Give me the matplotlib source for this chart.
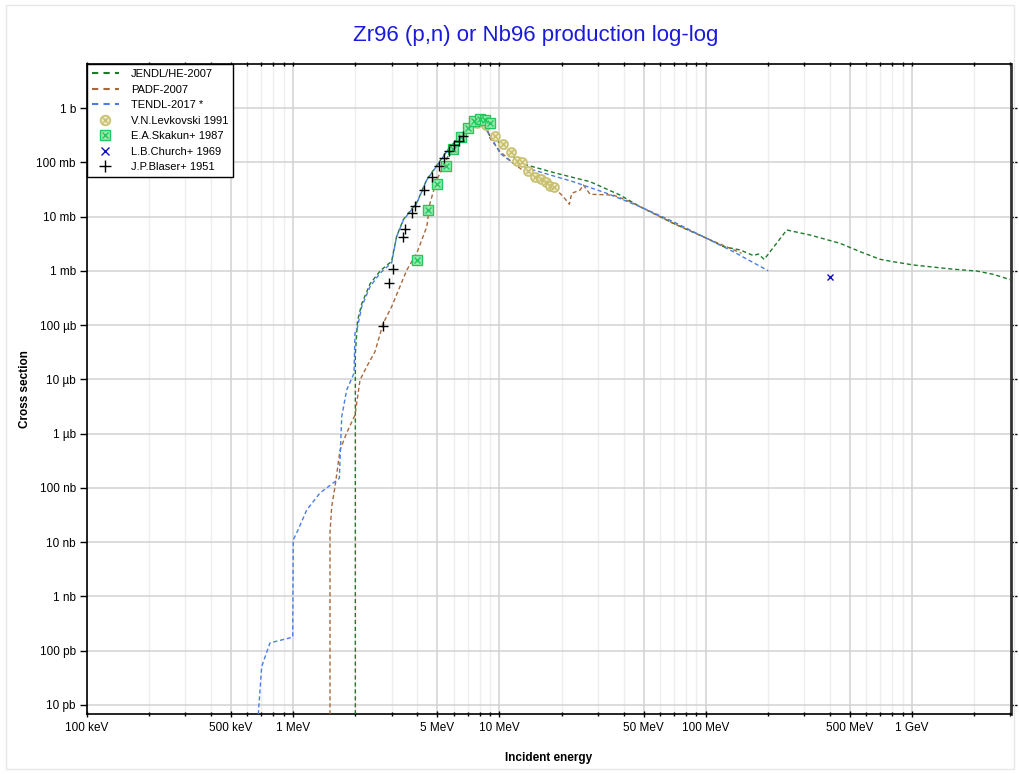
import numpy as np
import matplotlib
matplotlib.use("Agg")
import matplotlib.pyplot as plt
from matplotlib.ticker import FixedLocator, FuncFormatter, NullFormatter
from matplotlib.legend_handler import HandlerTuple
from matplotlib.patches import Rectangle
from matplotlib.lines import Line2D

plt.rcParams['font.family'] = ['Liberation Sans', 'DejaVu Sans']

# energies in MeV, cross sections in mb
jendl_e = [2.0, 2.0, 2.05, 2.15, 2.36, 2.64, 3.0, 3.17, 3.42, 3.97, 4.44, 4.96, 5.55, 6.2,
           6.93, 7.89, 8.51, 9.0, 10.06, 11.67, 13.55, 18.9, 27.5, 38.4, 48.0, 69.6, 101,
           122, 147, 170, 180, 192, 247, 320, 448, 560, 700, 812, 1015, 1585, 2060, 2480, 3020]
jendl_s = [5e-9, 0.03, 0.12, 0.25, 0.58, 1.0, 1.5, 4.3, 8.8, 18, 48, 87, 160, 262,
           400, 530, 450, 300, 225, 127, 89, 62.6, 43.8, 24.9, 15.2, 7.5, 3.97,
           2.78, 2.42, 1.91, 2.04, 1.62, 5.65, 4.57, 3.21, 2.25, 1.63, 1.47, 1.28, 1.07, 0.99, 0.86, 0.68]

padf_e = [1.507, 1.507, 1.536, 1.594, 1.686, 1.816, 1.993, 2.107, 2.27, 2.49, 2.73, 3.0,
          3.55, 3.97, 4.44, 4.60, 4.96, 5.34, 5.75, 6.44, 7.19, 8.05, 8.67, 9.0, 10.06,
          11.67, 13.55, 15.7, 18.9, 20.4, 21.8, 22.4, 24.6, 25.5, 27.5, 35.6, 42.9, 51.7,
          69.6, 101, 126, 149]
padf_s = [5e-9, 1.48e-5, 4.5e-5, 1.05e-4, 4.99e-4, 1.03e-3, 2.2e-3, 9.7e-3, 0.0171, 0.0323,
          0.108, 0.218, 1.03, 2.1, 6.5, 17.5, 47.1, 82.8, 157, 296, 422, 522, 452, 276, 158,
          95.7, 62.6, 47.1, 30.8, 23.2, 16.8, 26.8, 30.8, 38.1, 25.7, 24.9, 18.8, 13.2,
          7.5, 3.97, 2.78, 2.1]

tendl_e = [0.673, 0.703, 0.771, 0.994, 1.0, 1.055, 1.162, 1.348, 1.673, 1.718, 1.816, 1.970,
           1.993, 2.044, 2.148, 2.356, 2.635, 3.0, 3.17, 3.42, 3.97, 4.44, 4.96, 5.55, 6.2,
           6.93, 7.89, 8.51, 9.0, 10.06, 11.67, 14.58, 22.8, 33.1, 48.0, 69.6, 101, 136, 201]
tendl_s = [5e-9, 5.07e-8, 1.39e-7, 1.77e-7, 1.1e-5, 1.68e-5, 3.91e-5, 8.05e-5, 1.5e-4, 2.05e-3,
           6.37e-3, 0.0129, 0.0714, 0.087, 0.218, 0.51, 0.90, 1.41, 4.25, 8.63, 17.5, 47.1,
           85.3, 157, 257, 393, 522, 422, 318, 146, 95.7, 72, 43.8, 26.8, 15.2, 8.03, 3.97,
           2.25, 1.0]

levk_e = [7.78, 8.60, 9.51, 10.36, 11.33, 12.12, 12.81, 13.79, 14.86, 15.84, 16.75, 17.57, 18.37]
levk_s = [528, 485, 308, 214, 153, 106, 99.8, 69.0, 54.2, 48.5, 43.3, 36.5, 34.6]

skak_e = [4.00, 4.49, 4.99, 5.49, 5.98, 6.51, 7.01, 7.52, 8.01, 8.51, 9.04]
skak_s = [1.58, 13.4, 39.7, 85.3, 175, 297, 425, 569, 621, 591, 540]

church_e = [400]
church_s = [0.76]

blaser_e = [2.73, 2.91, 3.06, 3.40, 3.49, 3.75, 3.89, 4.32, 4.69, 5.09, 5.40, 5.71, 6.02, 6.36, 6.68]
blaser_s = [0.097, 0.60, 1.08, 4.14, 5.82, 11.8, 15.8, 30.8, 52.8, 85.3, 121, 163, 208, 247, 305]

c_jendl = '#1f7a2a'
c_padf = '#a8683c'
c_tendl = '#4a7ee6'
c_levk = '#c8c070'
c_skak = '#22c85a'

fig = plt.figure(figsize=(10.2, 7.74), dpi=100)
fig.patches.append(Rectangle((0.006, 0.006), 0.988, 0.988, transform=fig.transFigure,
                             fill=False, edgecolor='#e8e8e8', lw=1))
ax = fig.add_axes([87 / 1020, 60 / 774, 924 / 1020, 650 / 774])
ax.set_xscale('log')
ax.set_yscale('log')
ax.set_xlim(0.1, 3020)
ax.set_ylim(6.8e-9, 6470)

dash = (0, (3, 2))
ax.plot(jendl_e, jendl_s, color=c_jendl, lw=1, linestyle=dash, zorder=3)
ax.plot(padf_e, padf_s, color=c_padf, lw=1, linestyle=dash, zorder=3)
ax.plot(tendl_e, tendl_s, color=c_tendl, lw=1, linestyle=dash, zorder=3)

ax.plot(levk_e, levk_s, 'o', ms=6.5, mfc='#ece9c4', mec=c_levk, mew=1.2, zorder=4)
ax.plot(levk_e, levk_s, 'x', ms=4, mec=c_levk, mew=1.0, zorder=4)
ax.plot(skak_e, skak_s, 's', ms=6.5, mfc='#9be8b6', mec=c_skak, mew=1.0, zorder=5)
ax.plot(skak_e, skak_s, 'x', ms=5, mec=c_skak, mew=1.0, zorder=5)
ax.plot(church_e, church_s, 'x', ms=5, mec='#1010c0', mew=1.0, zorder=5)
ax.plot(blaser_e, blaser_s, '+', ms=7, mec='black', mew=1.0, zorder=6)

# ticks
dec = [0.1, 1, 10, 100, 1000]
xmaj = [d * m for d in dec for m in (1, 5)]
xmin = [d * m for d in dec for m in (2, 3, 4, 6, 7, 8, 9) if d * m <= 3020]
ax.xaxis.set_major_locator(FixedLocator(xmaj))
ax.xaxis.set_minor_locator(FixedLocator(xmin))


def fmt_e(v, pos):
    if v < 1:
        return f"{v * 1000:g} keV"
    if v < 1000:
        return f"{v:g} MeV"
    return f"{v / 1000:g} GeV"


ax.xaxis.set_major_formatter(FuncFormatter(fmt_e))
ax.xaxis.set_minor_formatter(NullFormatter())

ylab = ['10 pb', '100 pb', '1 nb', '10 nb', '100 nb', '1 µb', '10 µb', '100 µb',
        '1 mb', '10 mb', '100 mb', '1 b']
yvals = [10.0 ** k for k in range(-8, 4)]
ax.yaxis.set_major_locator(FixedLocator(yvals))
ax.yaxis.set_minor_locator(FixedLocator([]))
ax.set_yticklabels(ylab)

ax.tick_params(axis='both', which='major', direction='out', length=5, width=1,
               labelsize=8.5, colors='black', pad=3)
ax.tick_params(axis='x', which='minor', direction='out', length=3, width=1)
ax.tick_params(top=True, right=True, which='both')
ax.tick_params(axis='x', which='both', top=True, direction='inout')
for t in ax.xaxis.get_major_ticks() + ax.xaxis.get_minor_ticks():
    t.tick2line.set_markersize(3)
for t in ax.yaxis.get_major_ticks():
    t.tick2line.set_markersize(4)

ax.grid(True, which='major', color='#d2d2d2', lw=1.1, zorder=0)
ax.grid(True, which='minor', axis='x', color='#eeeeee', lw=1.0, zorder=0)
ax.set_axisbelow(True)
for s in ('left', 'bottom', 'top'):
    ax.spines[s].set_linewidth(1.2)
    ax.spines[s].set_color('black')
ax.spines['right'].set_linewidth(2)
ax.spines['right'].set_color('#333333')

ax.set_xlabel('Incident energy', fontsize=8.5, fontweight='bold', labelpad=13)
ax.set_ylabel('Cross section', fontsize=8.5, fontweight='bold', labelpad=4)
fig.text(536 / 1020, 1 - 35 / 774, 'Zr96 (p,n) or Nb96 production log-log',
         color='#1a1adc', fontsize=16, ha='center', va='center')

handles = [
    Line2D([], [], color=c_jendl, lw=1.5, linestyle=(0, (3, 2.5))),
    Line2D([], [], color=c_padf, lw=1.5, linestyle=(0, (3, 2.5))),
    Line2D([], [], color=c_tendl, lw=1.5, linestyle=(0, (3, 2.5))),
    (Line2D([], [], ls='none', marker='o', ms=7, mfc='#ece9c4', mec=c_levk, mew=1.2),
     Line2D([], [], ls='none', marker='x', ms=4.5, mec=c_levk, mew=1.0)),
    (Line2D([], [], ls='none', marker='s', ms=7, mfc='#9be8b6', mec=c_skak, mew=1.0),
     Line2D([], [], ls='none', marker='x', ms=5, mec=c_skak, mew=1.0)),
    Line2D([], [], ls='none', marker='x', ms=6, mec='#1010c0', mew=1.0),
    Line2D([], [], ls='none', marker='+', ms=9, mec='black', mew=1.0),
]
labels = ['JENDL/HE-2007', 'PADF-2007', 'TENDL-2017 *', 'V.N.Levkovski 1991',
          'E.A.Skakun+ 1987', 'L.B.Church+ 1969', 'J.P.Blaser+ 1951']
leg = ax.legend(handles, labels, loc='upper left', bbox_to_anchor=(0, 1),
                fontsize=8, frameon=True, fancybox=False, framealpha=1,
                edgecolor='black', borderaxespad=0, handlelength=2.4,
                handletextpad=1.1, labelspacing=0.5, borderpad=0.45,
                handler_map={tuple: HandlerTuple(ndivide=1, pad=0)})
leg.get_frame().set_linewidth(1.0)

fig.savefig('out.png', dpi=100)
